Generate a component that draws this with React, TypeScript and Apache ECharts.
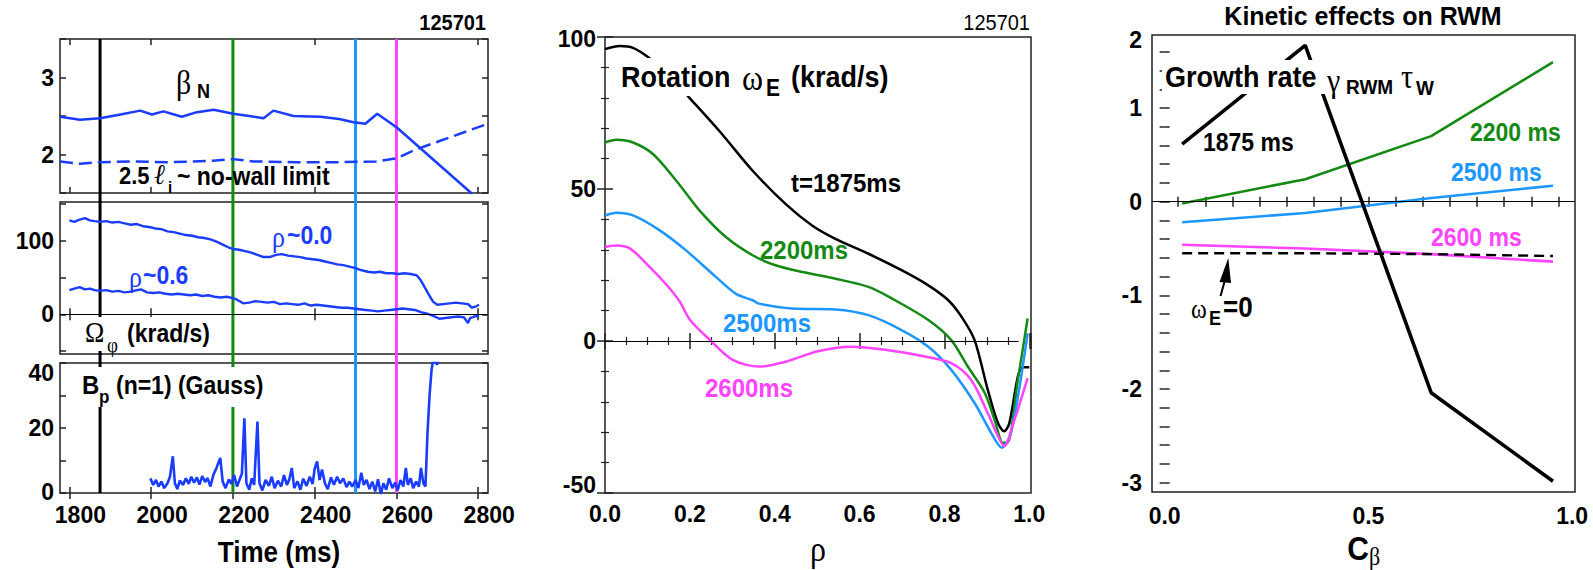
import React, { useEffect, useRef } from 'react';
import * as echarts from 'echarts';

const FONT = "'Liberation Sans', Arial, Helvetica, sans-serif";
const SERIF = "'Liberation Serif', 'DejaVu Serif', serif";

const BLUE = '#1a3cff';
const GREEN = '#148a14';
const CYAN = '#1e96ff';
const MAGENTA = '#ff44ff';
const BLACK = '#000000';

// ---------- Left panel (time traces) ----------
const timeTicks = [1800, 2000, 2200, 2400, 2600, 2800];
const markerTimes = [1875, 2200, 2500, 2600];
const markerColors = [BLACK, GREEN, CYAN, MAGENTA];

const betaN: [number, number][] = [
  [1777, 2.49], [1826, 2.45], [1875, 2.47], [1925, 2.52], [1973, 2.57], [2002, 2.52],
  [2030, 2.56], [2075, 2.49], [2112, 2.55], [2153, 2.58], [2201, 2.53], [2240, 2.5],
  [2275, 2.47], [2299, 2.57], [2348, 2.5], [2414, 2.49], [2460, 2.46], [2495, 2.42],
  [2524, 2.4], [2553, 2.53], [2601, 2.35], [2785, 1.49],
];
const noWallLimit: [number, number][] = [
  [1777, 1.91], [1826, 1.88], [1875, 1.9], [1950, 1.91], [2050, 1.9], [2150, 1.92],
  [2200, 1.94], [2250, 1.91], [2350, 1.9], [2450, 1.9], [2550, 1.91], [2600, 1.95],
  [2650, 2.07], [2824, 2.4],
];
const rot00: [number, number][] = [
  [1800, 128], [1812, 126], [1825, 129], [1838, 131], [1850, 128], [1862, 127], [1875, 126],
  [1890, 127], [1905, 125], [1920, 126], [1935, 124], [1950, 122], [1965, 123], [1980, 120],
  [1995, 119], [2010, 117], [2025, 116], [2040, 113], [2055, 112], [2070, 110], [2085, 108],
  [2100, 107], [2115, 105], [2130, 104], [2145, 102], [2160, 99], [2175, 95], [2190, 91],
  [2200, 89], [2215, 88], [2230, 86], [2245, 84], [2260, 81], [2275, 78], [2290, 78],
  [2305, 81], [2320, 82], [2335, 80], [2350, 79], [2365, 78], [2380, 76], [2395, 75],
  [2410, 74], [2425, 72], [2440, 70], [2455, 68], [2470, 67], [2485, 65], [2500, 63],
  [2515, 60], [2530, 58], [2545, 57], [2560, 58], [2575, 56], [2590, 56], [2605, 55],
  [2620, 56], [2635, 55], [2650, 53], [2660, 46], [2670, 36], [2680, 26], [2690, 17],
  [2700, 13], [2715, 14], [2730, 15], [2745, 16], [2760, 15], [2775, 14], [2785, 9],
  [2795, 11], [2802, 13],
];
const rot06: [number, number][] = [
  [1800, 33], [1812, 35], [1825, 37], [1838, 34], [1850, 35], [1862, 33], [1875, 32],
  [1890, 33], [1905, 31], [1920, 32], [1935, 30], [1950, 31], [1965, 33], [1975, 34],
  [1990, 30], [2005, 29], [2020, 30], [2035, 28], [2050, 27], [2065, 28], [2080, 27],
  [2095, 26], [2110, 27], [2125, 25], [2140, 26], [2155, 24], [2170, 23], [2185, 24],
  [2200, 22], [2210, 20], [2225, 15], [2240, 16], [2255, 18], [2270, 17], [2285, 16],
  [2300, 17], [2315, 14], [2330, 15], [2345, 14], [2360, 13], [2375, 15], [2390, 12],
  [2405, 13], [2420, 12], [2435, 11], [2450, 10], [2465, 9], [2480, 9], [2495, 8],
  [2510, 7], [2525, 6], [2540, 5], [2555, 4], [2570, 5], [2585, 6], [2600, 7], [2615, 8],
  [2630, 7], [2645, 6], [2660, 3], [2675, 1], [2690, -2], [2705, -6], [2720, -5],
  [2735, -4], [2750, -3], [2765, -4], [2775, -12], [2780, -5], [2790, -3], [2802, -2],
];
const bpN1: [number, number][] = [
  [1998, 4.5], [2005, 2.5], [2012, 4.0], [2018, 2.0], [2025, 3.5], [2032, 1.5], [2040, 3.0],
  [2046, 5.0], [2053, 11.3], [2058, 3.0], [2064, 1.2], [2070, 3.8], [2078, 2.5], [2085, 4.5],
  [2092, 2.8], [2098, 5.0], [2105, 3.2], [2112, 4.8], [2118, 2.6], [2125, 5.2], [2132, 3.4],
  [2138, 4.6], [2145, 2.0], [2152, 5.5], [2160, 7.8], [2169, 10.8], [2175, 3.5], [2182, 1.5],
  [2190, 4.2], [2196, 2.8], [2203, 5.5], [2210, 2.0], [2216, 4.0], [2222, 6.0], [2228, 23.0],
  [2233, 3.0], [2240, 1.0], [2246, 4.5], [2252, 2.5], [2260, 22.0], [2265, 3.0], [2272, 0.8],
  [2280, 4.0], [2288, 2.2], [2295, 5.0], [2302, 1.5], [2310, 3.8], [2318, 2.0], [2325, 5.5],
  [2332, 2.5], [2338, 4.2], [2344, 7.7], [2350, 1.5], [2358, 3.6], [2365, 1.0], [2372, 4.4],
  [2380, 2.2], [2388, 5.0], [2395, 2.8], [2400, 7.5], [2406, 9.7], [2412, 4.0], [2418, 7.2],
  [2425, 3.0], [2432, 1.2], [2440, 4.8], [2447, 2.5], [2455, 5.0], [2462, 3.0], [2470, 4.5],
  [2478, 1.8], [2485, 3.5], [2492, 2.0], [2500, 4.0], [2507, 1.5], [2514, 6.2], [2520, 2.5],
  [2527, 4.0], [2534, 1.2], [2541, 3.5], [2548, 0.5], [2555, 4.2], [2562, -0.5], [2568, 3.0],
  [2575, 1.0], [2582, 4.5], [2590, 1.5], [2597, 3.2], [2603, 0.8], [2610, 4.0], [2617, 2.0],
  [2623, 7.7], [2628, 2.5], [2635, 4.5], [2641, 1.5], [2648, 3.5], [2655, 2.0], [2660, 7.7],
  [2666, 3.0], [2671, 2.0], [2676, 18.5], [2681, 30], [2686, 38], [2690, 41], [2700, 39.5],
  [2705, 43], [2715, 42], [2725, 44],
];

// ---------- Middle panel (rotation profiles) ----------
const rot1875: [number, number][] = [
  [0, 96], [0.035, 97], [0.066, 96.4], [0.105, 93], [0.15, 87.5], [0.199, 80], [0.27, 69],
  [0.348, 56], [0.426, 45], [0.488, 38], [0.543, 33.6], [0.621, 28.7], [0.699, 23.3],
  [0.762, 18.3], [0.809, 13.4], [0.84, 8], [0.871, 0.3], [0.902, -16], [0.926, -27],
  [0.941, -29.7], [0.953, -27], [0.973, -11.7], [0.984, -8.6], [1.0, -8.6],
];
const rot2200: [number, number][] = [
  [0, 65.3], [0.027, 66.2], [0.066, 65.3], [0.113, 61.5], [0.168, 52.7], [0.223, 42.9],
  [0.285, 34.2], [0.348, 28.2], [0.402, 24.9], [0.465, 22.7], [0.543, 20.5], [0.621, 17.8],
  [0.676, 14], [0.762, 6.9], [0.816, 0.3], [0.855, -8.4], [0.895, -17.1], [0.918, -25.9],
  [0.938, -33.5], [0.948, -33.5], [0.973, -12.8], [0.996, 7.4],
];
const rot2500: [number, number][] = [
  [0, 41.3], [0.027, 42.2], [0.066, 41.3], [0.129, 36.4], [0.191, 29.8], [0.262, 21],
  [0.309, 15.5], [0.348, 13.4], [0.363, 12.3], [0.441, 10.7], [0.543, 10.4], [0.621, 8.5],
  [0.699, 3.6], [0.762, -1.9], [0.816, -9.5], [0.871, -20.4], [0.91, -30.2], [0.935, -35.1],
  [0.957, -30.2], [0.996, 2.5],
];
const rot2600: [number, number][] = [
  [0, 30.9], [0.027, 31.4], [0.059, 30.4], [0.098, 25.4], [0.145, 18.5], [0.176, 13],
  [0.2, 7], [0.25, 0], [0.301, -6.2], [0.363, -8.4], [0.426, -6.8], [0.504, -3.3],
  [0.582, -1.9], [0.66, -2.9], [0.754, -5.1], [0.816, -7.3], [0.863, -12.8], [0.902, -23.7],
  [0.926, -31.3], [0.941, -34.6], [0.965, -25.9], [0.996, -12.2],
];

// ---------- Right panel (growth rate vs C_beta) ----------
const cBeta = [0.043, 0.345, 0.654, 0.953];
const gr1875 = [0.615, 1.67, -2.04, -2.985];
const gr2200 = [-0.02, 0.24, 0.7, 1.49];
const gr2500 = [-0.22, -0.12, 0.04, 0.17];
const gr2600 = [-0.46, -0.5, -0.56, -0.64];
const grNoRotation = [-0.55, -0.55, -0.56, -0.58];
const cBetaTicks = [0.033, 0.1, 0.167, 0.233, 0.3, 0.367, 0.433, 0.5, 0.567, 0.633, 0.7, 0.767, 0.833, 0.9, 0.967];
const cBetaLabels = [0, 0.5, 1.0];
const growthTicks = [-3, -2.8, -2.6, -2.4, -2.2, -2, -1.8, -1.6, -1.4, -1.2, -1, -0.8, -0.6, -0.4, -0.2, 0, 0.2, 0.4, 0.6, 0.8, 1, 1.2, 1.4, 1.6];
const growthLabels = [-3, -2, -1, 0, 1, 1.73];

const zip = (xs: number[], ys: number[]) => xs.map((x, i) => [x, ys[i]]);

const LABEL = { fontSize: 23, fontWeight: 'bold', color: '#000', fontFamily: FONT };
const TICK = { lineStyle: { color: '#222', width: 1.5 } };
const NOLINE = { show: false };

function mirrorX(gridIndex: number, min: number, max: number, tick: any) {
  return {
    type: 'value', gridIndex, position: 'top', min, max, axisLine: NOLINE,
    splitLine: { show: false }, axisLabel: { show: false }, ...tick,
  };
}
function mirrorY(gridIndex: number, min: number, max: number, tick: any) {
  return {
    type: 'value', gridIndex, position: 'right', min, max, axisLine: NOLINE,
    splitLine: { show: false }, axisLabel: { show: false }, ...tick,
  };
}

function buildOption(): any {
  const gridBase = { show: true, borderColor: '#222', borderWidth: 1.5, containLabel: false, outerBoundsMode: 'none' };
  const grids = [
    { ...gridBase, left: 60, top: 39, width: 428, height: 154 },
    { ...gridBase, left: 60, top: 202, width: 428, height: 152 },
    { ...gridBase, left: 60, top: 363, width: 428, height: 130 },
    { ...gridBase, left: 605, top: 37, width: 426, height: 456 },
    { ...gridBase, left: 1152, top: 35, width: 423, height: 457 },
  ];
  const tMin = 1777, tMax = 2824;
  const timeTick = { axisTick: { inside: true, length: 6, customValues: timeTicks, ...TICK } };

  const xAxis: any[] = [];
  const yAxis: any[] = [];
  for (let g = 0; g < 3; g++) {
    xAxis.push({
      type: 'value', gridIndex: g, min: tMin, max: tMax, axisLine: NOLINE, splitLine: { show: false },
      ...timeTick,
      axisLabel: g === 2
        ? { ...LABEL, customValues: timeTicks, margin: 10, padding: [0, 0, 0, 22], formatter: (v: number) => String(v) }
        : { show: false },
    });
    xAxis.push(mirrorX(g, tMin, tMax, timeTick));
  }
  const y0tick = { axisTick: { inside: true, length: 6, ...TICK }, interval: 0.5 };
  yAxis.push({
    type: 'value', gridIndex: 0, min: 1.5, max: 3.5, ...y0tick, axisLine: NOLINE, splitLine: { show: false },
    axisLabel: { ...LABEL, margin: 6, formatter: (v: number) => (Number.isInteger(v) ? String(v) : '') },
  });
  yAxis.push(mirrorY(0, 1.5, 3.5, y0tick));
  const y1tick = { axisTick: { inside: true, length: 6, customValues: [-50, 0, 50, 100, 150], ...TICK } };
  yAxis.push({
    type: 'value', gridIndex: 1, min: -54, max: 153, ...y1tick, axisLine: NOLINE, splitLine: { show: false },
    axisLabel: { ...LABEL, margin: 6, customValues: [0, 100], formatter: (v: number) => String(v) },
  });
  yAxis.push(mirrorY(1, -54, 153, y1tick));
  const y2tick = { axisTick: { inside: true, length: 6, ...TICK }, interval: 10 };
  yAxis.push({
    type: 'value', gridIndex: 2, min: 0, max: 40, ...y2tick, axisLine: NOLINE, splitLine: { show: false },
    axisLabel: { ...LABEL, margin: 6, customValues: [0.4, 20, 37], formatter: (v: number) => String(Math.round(v / 20) * 20) },
  });
  yAxis.push(mirrorY(2, 0, 40, y2tick));
  const x3tick = {
    interval: 0.2,
    axisTick: { inside: true, length: 8, ...TICK },
    minorTick: { show: true, splitNumber: 4, length: 4, lineStyle: { color: '#222', width: 1.2 } },
  };
  xAxis.push({
    type: 'value', gridIndex: 3, min: 0, max: 1.004, ...x3tick, axisLine: NOLINE, splitLine: { show: false },
    axisLabel: { ...LABEL, margin: 9, formatter: (v: number) => v.toFixed(1) },
  });
  xAxis.push(mirrorX(3, 0, 1.004, x3tick));
  const y3tick = {
    interval: 50,
    axisTick: { inside: true, length: 8, ...TICK },
    minorTick: { show: true, splitNumber: 5, length: 4, lineStyle: { color: '#222', width: 1.2 } },
  };
  yAxis.push({
    type: 'value', gridIndex: 3, min: -50, max: 100, ...y3tick, axisLine: NOLINE, splitLine: { show: false },
    axisLabel: { ...LABEL, margin: 9, customValues: [-47.5, 0, 50, 99.3], formatter: (v: number) => String(Math.round(v / 50) * 50) },
  });
  yAxis.push(mirrorY(3, -50, 100, y3tick));
  const x4tick = { axisTick: { inside: true, length: 5, customValues: cBetaTicks, ...TICK } };
  xAxis.push({
    type: 'value', gridIndex: 4, min: -0.031, max: 1.007, ...x4tick, axisLine: NOLINE, splitLine: { show: false },
    axisLabel: { ...LABEL, margin: 12, customValues: cBetaLabels, formatter: (v: number) => v.toFixed(1) },
  });
  xAxis.push(mirrorX(4, -0.031, 1.007, x4tick));
  const y4tick = { axisTick: { inside: true, length: 5, customValues: growthTicks, ...TICK } };
  yAxis.push({
    type: 'value', gridIndex: 4, min: -3.1, max: 1.78, ...y4tick, axisLine: NOLINE, splitLine: { show: false },
    axisLabel: { ...LABEL, margin: 10, customValues: growthLabels, formatter: (v: number) => (v > 1.5 ? '2' : String(Math.round(v))) },
  });
  yAxis.push(mirrorY(4, -3.1, 1.78, y4tick));

  const line = (name: string, data: any[], xi: number, yi: number, color: string, width: number, extra: any = {}) => {
    const { lineStyle: ls, ...rest } = extra;
    return {
      name, type: 'line', data, xAxisIndex: xi, yAxisIndex: yi, showSymbol: false, symbol: 'none',
      ...rest, lineStyle: { color, width, ...(ls || {}) }, clip: true,
    };
  };
  const zeroLine = { silent: true, symbol: 'none', label: { show: false }, lineStyle: { color: '#000', width: 1, type: 'solid' }, data: [{ yAxis: 0 }] };

  const series: any[] = [
    line('βN', betaN, 0, 0, BLUE, 2.5),
    line('2.5 li', noWallLimit, 0, 0, BLUE, 2.5, { lineStyle: { type: [13, 6] } }),
    line('ρ~0.0', rot00, 2, 2, BLUE, 2.4, { markLine: zeroLine }),
    line('ρ~0.6', rot06, 2, 2, BLUE, 2.4),
    line('Bp', bpN1, 4, 4, BLUE, 2.6),
    line('1875ms', rot1875, 6, 6, BLACK, 2.5, { smooth: 0.3, markLine: { ...zeroLine, data: [[{ coord: [0, 0] }, { coord: [0.975, 0] }]] } }),
    line('2200ms', rot2200, 6, 6, GREEN, 2.5, { smooth: 0.3 }),
    line('2500ms', rot2500, 6, 6, CYAN, 2.5, { smooth: 0.3 }),
    line('2600ms', rot2600, 6, 6, MAGENTA, 2.5, { smooth: 0.3 }),
    line('g2200', zip(cBeta, gr2200), 8, 8, GREEN, 2.6, { markLine: zeroLine }),
    line('g2500', zip(cBeta, gr2500), 8, 8, CYAN, 2.6),
    line('g2600', zip(cBeta, gr2600), 8, 8, MAGENTA, 2.6),
    line('gNoRot', zip(cBeta, grNoRotation), 8, 8, BLACK, 2.4, { lineStyle: { type: [10, 6] } }),
    line('g1875', zip(cBeta, gr1875), 8, 8, BLACK, 3.6),
  ];

  return {
    animation: false,
    backgroundColor: '#ffffff',
    textStyle: { fontFamily: FONT },
    grid: grids,
    xAxis,
    yAxis,
    series,
  };
}

type TOpt = { align?: string; family?: string; weight?: string; color?: string; style?: string; scale?: number };
function T(text: string, x: number, y: number, size: number, o: TOpt = {}) {
  return {
    type: 'text', z: 101, x, y, scaleY: o.scale ?? 1.1, silent: true,
    style: {
      text, fontSize: size, fontFamily: o.family || FONT, fontWeight: o.weight || 'bold',
      fontStyle: o.style || 'normal', fill: o.color || '#000', align: o.align || 'left', verticalAlign: 'middle',
    },
  };
}
const G = (text: string, x: number, y: number, size: number, o: TOpt = {}) =>
  T(text, x, y, size, { family: SERIF, weight: 'normal', ...o });
function R(x: number, y: number, w: number, h: number) {
  return { type: 'rect', z: 100, silent: true, shape: { x, y, width: w, height: h }, style: { fill: '#ffffff' } };
}

function annotations(): any[] {
  return [
    // left panel
    T('125701', 486, 22, 20, { align: 'right' }),
    G('β', 176, 83, 30),
    T('N', 197, 91, 18),
    T('2.5', 119, 176, 22),
    G('ℓ', 154, 175, 26, { style: 'italic' }),
    T('i', 168, 187, 15),
    T('~ no-wall limit', 177, 176, 23),
    G('ρ', 272, 238, 26, { color: BLUE }),
    T('~0.0', 287, 235, 23, { color: BLUE }),
    G('ρ', 129, 278, 26, { color: BLUE }),
    T('~0.6', 143, 275, 23, { color: BLUE }),
    R(83, 317, 133, 34),
    G('Ω', 85, 333, 26),
    G('φ', 107, 345, 19),
    T('(krad/s)', 127, 333, 23),
    R(81, 367, 190, 40),
    T('B', 82, 385, 24),
    T('p', 99, 397, 17),
    T('(n=1) (Gauss)', 116, 385, 23),
    T('Time (ms)', 279, 552, 26, { align: 'center' }),
    // middle panel
    T('125701', 1030, 22, 20, { align: 'right', weight: 'normal' }),
    R(619, 58, 276, 38),
    T('Rotation', 621, 77, 27),
    G('ω', 742, 78, 32),
    T('E', 766, 88, 21),
    T('(krad/s)', 791, 77, 27),
    T('t=1875ms', 791, 183, 24),
    T('2200ms', 760, 250, 24, { color: GREEN }),
    T('2500ms', 723, 323, 24, { color: CYAN }),
    T('2600ms', 705, 388, 24, { color: MAGENTA }),
    G('ρ', 818, 549, 32, { align: 'center' }),
    // right panel
    T('Kinetic effects on RWM', 1363, 16, 25, { align: 'center', scale: 1 }),
    R(1162, 60, 276, 34),
    T('Growth rate', 1165, 77, 27),
    G('γ', 1327, 81, 30),
    T('RWM', 1346, 87, 19),
    G('τ', 1401, 77, 30),
    T('W', 1416, 88, 19),
    T('1875 ms', 1203, 142, 23),
    T('2200 ms', 1470, 132, 23, { color: GREEN }),
    T('2500 ms', 1451, 172, 23, { color: CYAN }),
    T('2600 ms', 1431, 237, 23, { color: MAGENTA }),
    G('ω', 1191, 309, 24),
    T('E', 1209, 318, 18),
    T('=0', 1223, 307, 26),
    { type: 'line', z: 101, silent: true, shape: { x1: 1220.5, y1: 296, x2: 1225, y2: 280 }, style: { stroke: '#000', lineWidth: 2 } },
    { type: 'polygon', z: 101, silent: true, shape: { points: [[1228.3, 258], [1219.5, 282], [1231, 283]] }, style: { fill: '#000' } },
    T('C', 1358, 548, 30, { align: 'center' }),
    G('β', 1369, 557, 22),
  ];
}

export default function App() {
  const ref = useRef<HTMLDivElement>(null);
  useEffect(() => {
    if (!ref.current) return;
    const chart = echarts.init(ref.current, null, { renderer: 'svg' });
    chart.setOption(buildOption());
    const px = (t: number) => chart.convertToPixel({ xAxisIndex: 0 } as any, t) as unknown as number;
    const top = chart.convertToPixel({ yAxisIndex: 0 } as any, 3.5) as unknown as number;
    const bottom = chart.convertToPixel({ yAxisIndex: 4 } as any, 0) as unknown as number;
    const vlines = markerTimes.map((t, i) => ({
      type: 'line', z: 1, silent: true,
      shape: { x1: px(t), y1: top, x2: px(t), y2: bottom },
      style: { stroke: markerColors[i], lineWidth: 3 },
    }));
    chart.setOption({ graphic: { elements: [...vlines, ...annotations()] } });
    return () => chart.dispose();
  }, []);
  return (
    <div
      ref={ref}
      style={{ position: 'absolute', left: 0, top: 0, width: 1593, height: 570, background: '#fff' }}
    />
  );
}
